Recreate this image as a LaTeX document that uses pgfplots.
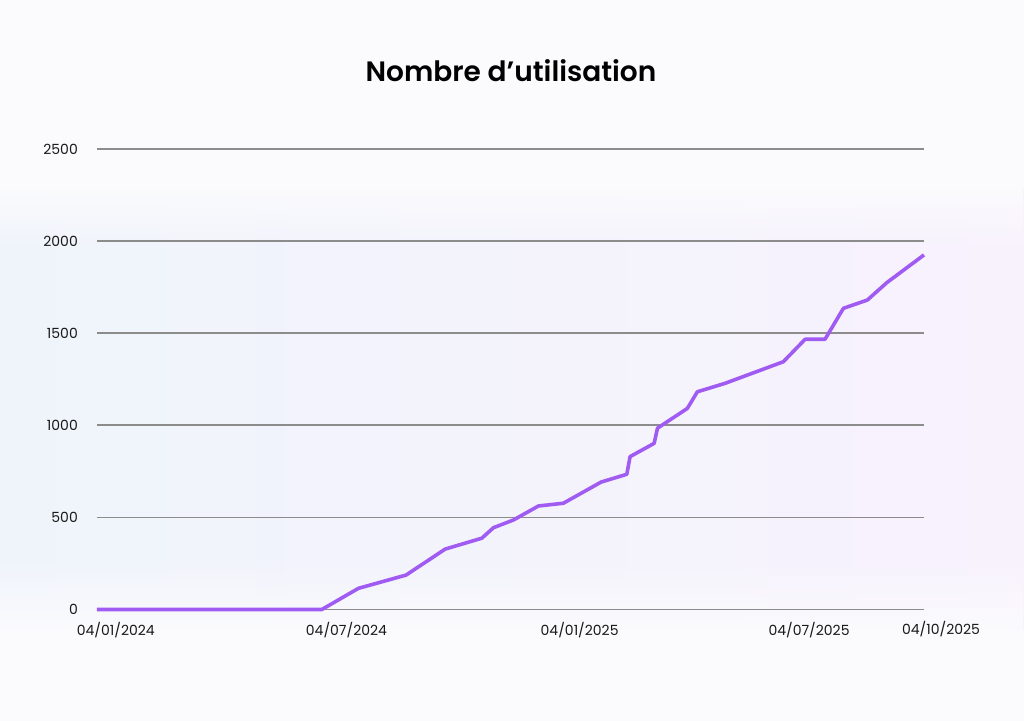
\documentclass[border=0pt]{standalone}
\usepackage{pgfplots}
\pgfplotsset{compat=1.18}
\usetikzlibrary{fadings}
\usepackage{fontspec}
\setmainfont{Poppins}
\newfontfamily\titlefont{Poppins SemiBold}
\definecolor{linepurple}{HTML}{A05CF2}
\definecolor{gridgray}{HTML}{8C8C8C}
\definecolor{bgwhite}{HTML}{FBFBFE}
\definecolor{bgblue}{HTML}{EFF4FB}
\definecolor{bglav}{HTML}{F8F2FD}
\begin{document}
\begin{tikzpicture}
\path[use as bounding box, fill=bgwhite] (-97bp,-111.5bp) rectangle (927bp,609.5bp);
\shade[left color=bgblue, right color=bglav, middle color=bgblue!50!bglav] (-97bp,-20bp) rectangle (927bp,420bp);
\fill[bgwhite, path fading=south] (-97bp,360bp) rectangle (927bp,421bp);
\fill[bgwhite, path fading=north] (-97bp,-21bp) rectangle (927bp,50bp);
\begin{axis}[
  at={(0,0)}, anchor=south west,
  scale only axis, width=827bp, height=460.5bp,
  xmin=-14.8, xmax=637.7, ymin=0, ymax=2500,
  axis line style={draw=none},
  major tick length=0pt,
  ymajorgrids, grid style={gridgray, line width=1.6bp},
  ytick={0,500,1000,1500,2000,2500},
  yticklabels={0,500,1000,1500,2000,2500},
  xtick={0,182,366,547},
  xticklabels={04/01/2024,04/07/2024,04/01/2025,04/07/2025},
  extra x ticks={637.7},
  extra x tick labels={04/10/2025},
  extra x tick style={xticklabel style={xshift=17bp, yshift=1.3bp}},
  ticklabel style={font=\fontsize{14bp}{16bp}\selectfont, text=black!90},
  yticklabel style={anchor=east, inner sep=0pt, xshift=-19bp},
  xticklabel style={anchor=north, inner sep=0pt, yshift=-12.5bp},
  clip=false,
]
\addplot[linepurple, line width=3.6bp, line join=round] coordinates {
(-14.8,0) (162.6,0) (191.5,115) (229.1,187) (259.9,328) (288.8,387)
(298.0,444) (313.8,486) (333.5,562) (353.2,577) (383.0,692) (403.2,734)
(405.8,830) (424.8,902) (427.4,984) (451.0,1092) (458.9,1182) (480.8,1228)
(526.7,1345) (543.9,1467) (559.6,1467) (574.1,1635) (593.0,1680)
(608.3,1774) (637.7,1925)
};
\end{axis}
\node[font=\titlefont\fontsize{28bp}{32bp}\selectfont, text=black] at (414bp,538.5bp) {Nombre d’utilisation};
\end{tikzpicture}
\end{document}
